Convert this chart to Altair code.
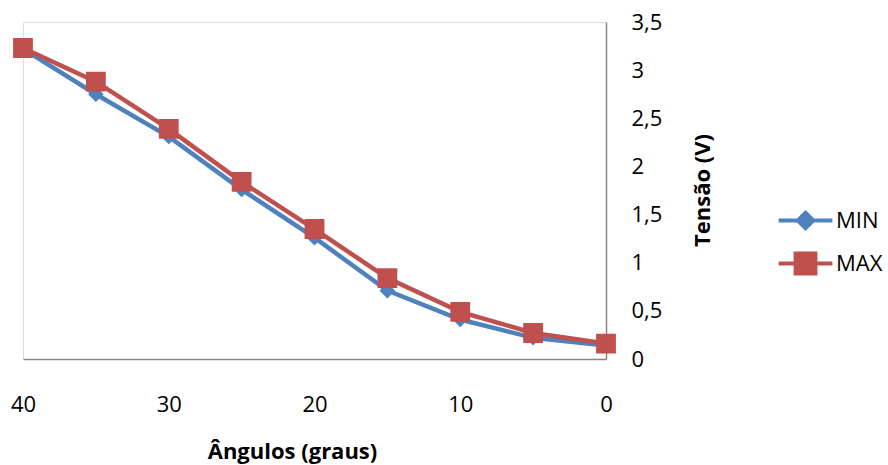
import altair as alt
import pandas as pd

angles = [40, 35, 30, 25, 20, 15, 10, 5, 0]
min_vals = [3.22, 2.75, 2.31, 1.76, 1.26, 0.71, 0.41, 0.22, 0.14]
max_vals = [3.23, 2.88, 2.39, 1.84, 1.35, 0.84, 0.49, 0.27, 0.16]
series = ["MIN", "MAX"]
colors = ["#4F81BD", "#C0504D"]
x_ticks = [0, 10, 20, 30, 40]
y_ticks = [0, 0.5, 1, 1.5, 2, 2.5, 3, 3.5]

# marker paths: the open horizontal segment is only stroked in the legend;
# on the chart the markers are fill-only, so only the diamond / square shows
marker_paths = [
    "M-1.9,0L1.9,0M0,-0.55L0.55,0L0,0.55L-0.55,0Z",
    "M-1.9,0L1.9,0M-0.7,-0.7L0.7,-0.7L0.7,0.7L-0.7,0.7Z",
]

df = pd.DataFrame({
    "angle": angles + angles,
    "volt": min_vals + max_vals,
    "series": [series[0]] * len(angles) + [series[1]] * len(angles),
})

FONT = "Open Sans"

x_enc = alt.X(
    "angle:Q",
    scale=alt.Scale(domain=[0, 40], reverse=True, nice=False, zero=False),
    axis=alt.Axis(
        values=x_ticks, title="Ângulos (graus)", ticks=False, grid=False,
        domainColor="#868686", domainWidth=1.5,
        labelFont=FONT, labelFontSize=22, labelColor="black",
        labelPadding=45, labelBaseline="middle", labelFlush=False,
        titleFont=FONT, titleFontSize=22, titleFontWeight="bold", titleColor="black",
        titleX=269, titleY=92, titleBaseline="middle", titleAnchor="middle", titleAlign="center",
    ),
)
y_enc = alt.Y(
    "volt:Q",
    scale=alt.Scale(domain=[0, 3.5], nice=False),
    axis=alt.Axis(
        orient="right", values=y_ticks, title="Tensão (V)", ticks=False, grid=False,
        domainColor="#868686", domainWidth=1.5,
        labelExpr="replace(format(datum.value, '.1~f'), '.', ',')",
        labelFont=FONT, labelFontSize=22, labelColor="black",
        labelPadding=25, labelAlign="left", labelBaseline="middle", labelFlush=False,
        titleFont=FONT, titleFontSize=22, titleFontWeight="bold", titleColor="black",
        titleAngle=270, titleX=96, titleY=168, titleBaseline="middle", titleAlign="center",
    ),
)

legend = alt.Legend(
    orient="none", legendX=766, legendY=182, title=None, padding=0,
    symbolSize=800, symbolStrokeWidth=4, symbolOpacity=1,
    labelOffset=14, rowPadding=8,
    labelFont=FONT, labelFontSize=22, labelColor="black",
)

# line colour scale listed in the other order so its (hidden) legend is not merged
lines = alt.Chart(df).mark_line(strokeWidth=4.5).encode(
    x=x_enc, y=y_enc,
    color=alt.Color("series:N", scale=alt.Scale(domain=series[::-1], range=colors[::-1]),
                    legend=None),
)

points = alt.Chart(df).mark_point(filled=True, opacity=1, strokeWidth=0, size=800).encode(
    x=x_enc, y=y_enc,
    fill=alt.Fill("series:N", scale=alt.Scale(domain=series, range=colors), legend=legend),
    stroke=alt.Stroke("series:N", scale=alt.Scale(domain=series, range=colors), legend=legend),
    shape=alt.Shape("series:N", scale=alt.Scale(domain=series, range=marker_paths), legend=legend),
)

chart = alt.layer(lines, points).properties(
    width=583, height=337, autosize="none",
    padding={"left": 23, "top": 22, "right": 282, "bottom": 106},
).configure_view(stroke=None).configure(background="white")

chart.save("out.html", embed_options={"renderer": "svg", "actions": False})
